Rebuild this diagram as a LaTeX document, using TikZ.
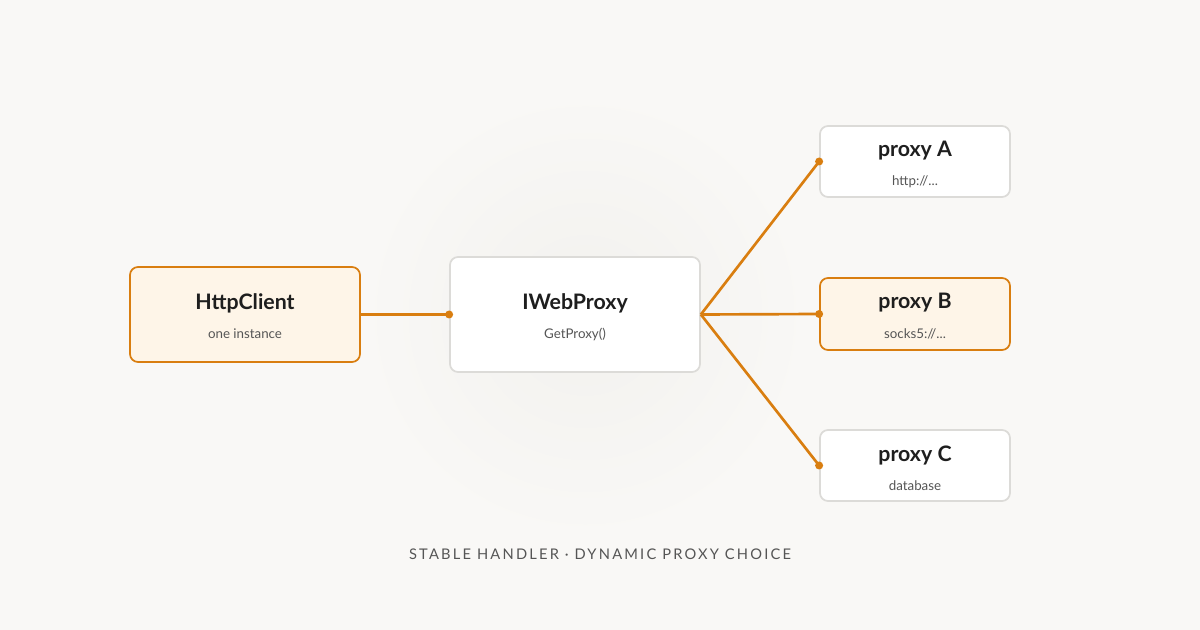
\documentclass[tikz,border=0pt]{standalone}
\usepackage{fontspec}
\setmainfont{Lato}
\newfontfamily\capfont[LetterSpace=15]{Lato}
\definecolor{bg}{HTML}{F9F8F6}
\definecolor{halo}{HTML}{F2F1EE}
\definecolor{org}{HTML}{D97E10}
\definecolor{orgfill}{HTML}{FEF5E8}
\definecolor{gbord}{HTML}{DCDBD8}
\definecolor{txt}{HTML}{1E1E1E}
\definecolor{sub}{HTML}{555555}
\begin{document}
\begin{tikzpicture}[x=0.75pt,y=-0.75pt,
  box/.style={draw=gbord,line width=1.3pt,fill=white,rounded corners=6pt,inner sep=0pt},
  hbox/.style={box,draw=org,fill=orgfill},
  title/.style={font=\fontsize{16}{19}\selectfont\bfseries,text=txt},
  subt/.style={font=\fontsize{10}{12}\selectfont,text=sub},
  link/.style={draw=org,line width=2pt},
  dot/.style={circle,fill=org,inner sep=0pt,minimum size=6pt}]
\fill[bg] (0,0) rectangle (1200,630);
\useasboundingbox (0,0) rectangle (1200,630);
\shade[inner color=halo,outer color=bg] (585,315) circle (225);
% boxes
\node[hbox,minimum width=172.5pt,minimum height=71.25pt] (http) at (245,314.5) {};
\node[title] at (245,303) {HttpClient};
\node[subt] at (245,334) {one instance};
\node[box,minimum width=187.5pt,minimum height=86.25pt] (iweb) at (575,314.5) {};
\node[title] at (575,303) {IWebProxy};
\node[subt] at (575,334) {GetProxy()};
\node[box,minimum width=142.5pt,minimum height=53.25pt] (pa) at (915,161.5) {};
\node[title] at (915,151) {proxy A};
\node[subt] at (915,182) {http://...};
\node[hbox,minimum width=142.5pt,minimum height=54pt] (pb) at (915,314) {};
\node[title] at (915,303) {proxy B};
\node[subt] at (915,334) {socks5://...};
\node[box,minimum width=142.5pt,minimum height=53.25pt] (pc) at (915,465.5) {};
\node[title] at (915,455) {proxy C};
\node[subt] at (915,486) {database};
% connectors
\coordinate (hub) at (iweb.east);
\draw[link] (http.east) -- (iweb.west);
\node[dot] at (iweb.west) {};
\draw[link] (hub) -- (pa.west); \node[dot] at (pa.west) {};
\draw[link] (hub) -- (pb.west); \node[dot] at (pb.west) {};
\draw[link] (hub) -- (pc.west); \node[dot] at (pc.west) {};
\node[font=\capfont\fontsize{11}{13}\selectfont,text=sub] (cap) at (600,554) {STABLE HANDLER · DYNAMIC PROXY CHOICE};
\end{tikzpicture}
\end{document}
